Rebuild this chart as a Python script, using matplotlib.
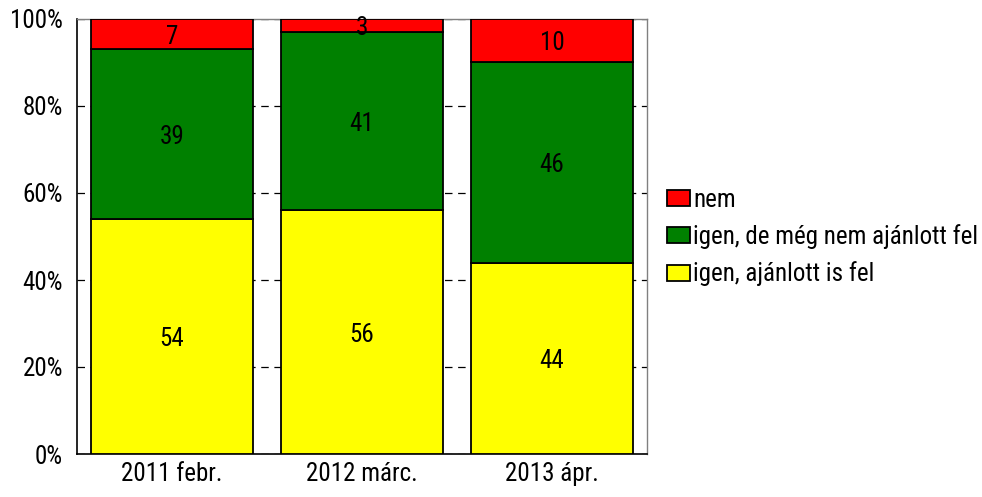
import matplotlib
matplotlib.use("Agg")
import matplotlib.pyplot as plt
import numpy as np

# data
periods = ["2011 febr.", "2012 márc.", "2013 ápr."]
igen_ajanlott = [54, 56, 44]
igen_meg_nem = [39, 41, 46]
nem = [7, 3, 10]
series_names = ["igen, ajánlott is fel", "igen, de még nem ajánlott fel", "nem"]
colors = ["#ffff00", "#008000", "#ff0000"]

plt.rcParams["font.family"] = ["Roboto Condensed", "DejaVu Sans"]
FS = 18

fig = plt.figure(figsize=(9.82, 4.97), dpi=100)
ax = fig.add_axes([77 / 982, 1 - 454 / 497, 570 / 982, 435 / 497])

x = np.arange(len(periods))
bottom = np.zeros(len(periods))
bars = []
for vals, col, name in zip([igen_ajanlott, igen_meg_nem, nem], colors, series_names):
    b = ax.bar(x, vals, 0.85, bottom=bottom, color=col, edgecolor="black",
               linewidth=1.3, label=name, zorder=3)
    for xi, v, bo in zip(x, vals, bottom):
        ax.text(xi, bo + v / 2, str(v), ha="center", va="center_baseline",
                fontsize=FS, zorder=4)
    bars.append(b)
    bottom += np.array(vals)

ax.set_xlim(-0.5, 2.5)
ax.set_ylim(0, 100)
ax.set_yticks(range(0, 101, 20))
ax.set_yticklabels([f"{v}%" for v in range(0, 101, 20)])
ax.set_xticks(x)
ax.set_xticklabels(periods)
ax.tick_params(axis="y", length=0, labelsize=FS, pad=10)
ax.tick_params(axis="x", length=0, labelsize=FS, pad=6)
ax.yaxis.grid(True, linestyle=(0, (6, 4.5)), color="black", linewidth=0.9, zorder=0)

for s in ["left", "bottom"]:
    ax.spines[s].set_color("black")
    ax.spines[s].set_linewidth(1.2)
for s in ["top", "right"]:
    ax.spines[s].set_color("#808080")
    ax.spines[s].set_linewidth(1.0)

handles = [bars[2], bars[1], bars[0]]
labels = [series_names[2], series_names[1], series_names[0]]
fig.legend(handles, labels, loc="center left", bbox_to_anchor=(667 / 982, 1 - 237 / 497),
           frameon=False, fontsize=FS, handlelength=0.9, handleheight=0.6,
           handletextpad=0.15, labelspacing=0.5, borderaxespad=0, borderpad=0)

fig.savefig("out.png", dpi=100)
